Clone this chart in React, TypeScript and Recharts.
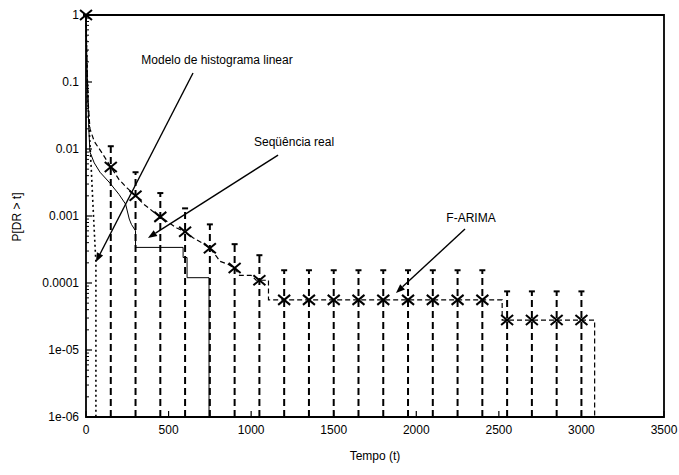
import React from 'react';
import {
  ComposedChart,
  Line,
  Scatter,
  ErrorBar,
  XAxis,
  YAxis,
  ReferenceArea,
  ReferenceLine,
} from 'recharts';

const FONT = '"Liberation Sans", Arial, sans-serif';
const FLOOR = 1e-6;

// F-ARIMA estimates at the sampled instants (X markers) and the top of each interval
const farimaT = [0, 150, 300, 450, 600, 750, 900, 1050, 1200, 1350, 1500, 1650, 1800, 1950, 2100, 2250, 2400, 2550, 2700, 2850, 3000];
const farimaP = [1, 0.0054, 0.002, 0.00097, 0.00058, 0.00033, 0.000167, 0.00011, 5.6e-5, 5.6e-5, 5.6e-5, 5.6e-5, 5.6e-5, 5.6e-5, 5.6e-5, 5.6e-5, 5.6e-5, 2.8e-5, 2.8e-5, 2.8e-5, 2.8e-5];
const farimaUpper = [null, 0.011, 0.0045, 0.0022, 0.0013, 0.00075, 0.00038, 0.00026, 0.000155, 0.000155, 0.000155, 0.000155, 0.000155, 0.000155, 0.000155, 0.000155, 0.000155, 7.5e-5, 7.5e-5, 7.5e-5, 7.5e-5];

// F-ARIMA complementary distribution (dashed curve)
const farimaCurveT = [0, 4, 8, 12, 24, 50, 100, 150, 200, 250, 300, 350, 400, 450, 500, 550, 600, 650, 700, 750, 790, 812, 860, 900, 930, 1000, 1030, 1105, 1105, 2520, 2520, 3080, 3080];
const farimaCurveP = [1, 0.3, 0.12, 0.055, 0.02, 0.013, 0.0085, 0.0054, 0.0035, 0.0026, 0.002, 0.0015, 0.0012, 0.00097, 0.0008, 0.00066, 0.00058, 0.00047, 0.0004, 0.00033, 0.00025, 0.00021, 0.00019, 0.000167, 0.00013, 0.00013, 0.00011, 0.00011, 5.6e-5, 5.6e-5, 2.8e-5, 2.8e-5, 1e-6];

// measured sequence (solid)
const realT = [0, 4, 8, 12, 17, 24, 50, 85, 145, 200, 240, 262, 275, 300, 300, 588, 588, 612, 612, 745, 745];
const realP = [1, 0.3, 0.12, 0.05, 0.02, 0.009, 0.0062, 0.0045, 0.0031, 0.0021, 0.0015, 0.0009, 0.00075, 0.0006, 0.00034, 0.00034, 0.00024, 0.00024, 0.00012, 0.00012, 1e-6];

// linear histogram model (dotted)
const modelT = [0, 5, 12, 22, 32, 42, 50, 60, 60];
const modelP = [1, 0.2, 0.05, 0.015, 0.005, 0.0015, 0.0006, 0.0002, 1e-6];

const xTicks = [0, 500, 1000, 1500, 2000, 2500, 3000, 3500];
const yMajor = [1e-6, 1e-5, 1e-4, 1e-3, 1e-2, 1e-1, 1];
const yLabels = ['1e-06', '1e-05', '0.0001', '0.001', '0.01', '0.1', '1'];
const yMinor = yMajor.slice(0, -1).flatMap((d) => [2, 3, 4, 5, 6, 7, 8, 9].map((m) => d * m));
const yTicks = [...yMajor, ...yMinor].sort((a, b) => a - b);

// annotations: label, tail point and head point in data space
const noteText = ['Modelo de histograma linear', 'Seqüência real', 'F-ARIMA'];
const noteFrom = [
  { x: 648, y: 0.136 },
  { x: 1163, y: 0.0081 },
  { x: 2295, y: 0.00064 },
];
const noteTo = [
  { x: 60, y: 0.000206 },
  { x: 375, y: 0.00047 },
  { x: 1877, y: 7.1e-5 },
];
const noteOffset = [
  [24, -9],
  [16, -9],
  [6, -7],
];

const LeftTick = (props: any) => {
  const { x, y, payload } = props;
  const i = yMajor.indexOf(payload.value);
  if (i < 0) return <line x1={x + 7} x2={x + 10} y1={y} y2={y} stroke="#000" strokeWidth={1} />;
  return (
    <g>
      <line x1={x + 7} x2={x + 13} y1={y} y2={y} stroke="#000" strokeWidth={1.2} />
      <text x={x} y={y} dy={4} textAnchor="end" fontFamily={FONT} fontSize={12} fill="#000">
        {yLabels[i]}
      </text>
    </g>
  );
};

const RightTick = (props: any) => {
  const { x, y, payload } = props;
  const major = yMajor.indexOf(payload.value) >= 0;
  return <line x1={x} x2={x - (major ? 6 : 3)} y1={y} y2={y} stroke="#000" strokeWidth={major ? 1.2 : 1} />;
};

const BottomTick = (props: any) => {
  const { x, y, payload } = props;
  return (
    <g>
      <line x1={x} x2={x} y1={y} y2={y - 6} stroke="#000" strokeWidth={1.2} />
      <text x={x} y={y + 17} textAnchor="middle" fontFamily={FONT} fontSize={12} fill="#000">
        {payload.value}
      </text>
    </g>
  );
};

const TopTick = (props: any) => {
  const { x, y } = props;
  return <line x1={x} x2={x} y1={y} y2={y + 6} stroke="#000" strokeWidth={1.2} />;
};

const Cross = (props: any) => {
  const { cx, cy } = props;
  return (
    <g stroke="#000" strokeWidth={2}>
      <line x1={cx - 6} y1={cy - 5} x2={cx + 6} y2={cy + 5} />
      <line x1={cx - 6} y1={cy + 5} x2={cx + 6} y2={cy - 5} />
    </g>
  );
};

const arrowShape = (i: number) => (props: any) => {
  const { x1, y1, x2, y2 } = props;
  const a = Math.atan2(y2 - y1, x2 - x1);
  const len = 9;
  const half = 3.5;
  const bx = x2 - len * Math.cos(a);
  const by = y2 - len * Math.sin(a);
  const pts = `${x2},${y2} ${bx + half * Math.sin(a)},${by - half * Math.cos(a)} ${bx - half * Math.sin(a)},${by + half * Math.cos(a)}`;
  return (
    <g>
      <line x1={x1} y1={y1} x2={bx} y2={by} stroke="#000" strokeWidth={1.4} />
      <polygon points={pts} fill="#000" />
      <text
        x={x1 + noteOffset[i][0]}
        y={y1 + noteOffset[i][1]}
        textAnchor="middle"
        fontFamily={FONT}
        fontSize={12}
        fill="#000"
      >
        {noteText[i]}
      </text>
    </g>
  );
};

export default function App() {
  const markers = farimaT.map((t, i) => ({
    t,
    p: farimaP[i],
    err: farimaUpper[i] == null ? [0, 0] : [farimaP[i] - FLOOR, (farimaUpper[i] as number) - farimaP[i]],
  }));
  const farimaCurve = farimaCurveT.map((t, i) => ({ t, p: farimaCurveP[i] }));
  const real = realT.map((t, i) => ({ t, p: realP[i] }));
  const model = modelT.map((t, i) => ({ t, p: modelP[i] }));

  return (
    <div style={{ position: 'absolute', left: 0, top: 0, background: '#fff' }}>
      <ComposedChart width={679} height={475} margin={{ top: 15, right: 15, bottom: 0, left: 0 }}>
        <XAxis
          dataKey="t"
          type="number"
          domain={[0, 3500]}
          ticks={xTicks}
          interval={0}
          height={58}
          tickSize={0}
          tickMargin={0}
          axisLine={false}
          tickLine={false}
          tick={<BottomTick />}
          label={{
            content: (p: any) => (
              <text
                x={p.viewBox.x + p.viewBox.width / 2}
                y={p.viewBox.y + 43}
                textAnchor="middle"
                fontFamily={FONT}
                fontSize={12}
                fill="#000"
              >
                Tempo (t)
              </text>
            ),
          }}
        />
        <XAxis
          xAxisId="top"
          orientation="top"
          type="number"
          domain={[0, 3500]}
          ticks={xTicks}
          interval={0}
          height={0}
          tickSize={0}
          tickMargin={0}
          axisLine={false}
          tickLine={false}
          tick={<TopTick />}
        />
        <YAxis
          type="number"
          scale="log"
          domain={[1e-6, 1]}
          ticks={yTicks}
          interval={0}
          width={86}
          tickSize={0}
          tickMargin={7}
          axisLine={false}
          tickLine={false}
          tick={<LeftTick />}
          label={{
            content: (p: any) => (
              <text
                x={p.viewBox.x + 21}
                y={217}
                transform={`rotate(-90, ${p.viewBox.x + 21}, 217)`}
                textAnchor="middle"
                fontFamily={FONT}
                fontSize={12}
                fill="#000"
              >
                P[DR &gt; t]
              </text>
            ),
          }}
        />
        <YAxis
          yAxisId="right"
          orientation="right"
          type="number"
          scale="log"
          domain={[1e-6, 1]}
          ticks={yTicks}
          interval={0}
          width={0}
          tickSize={0}
          tickMargin={0}
          axisLine={false}
          tickLine={false}
          tick={<RightTick />}
        />

        <ReferenceArea x1={0} x2={3500} y1={1e-6} y2={1} fill="none" stroke="#000" strokeWidth={1.8} />

        <Line
          data={model}
          dataKey="p"
          type="linear"
          stroke="#000"
          strokeWidth={1.6}
          strokeDasharray="2 3"
          dot={false}
          isAnimationActive={false}
        />
        <Line
          data={real}
          dataKey="p"
          type="linear"
          stroke="#000"
          strokeWidth={1}
          dot={false}
          isAnimationActive={false}
        />
        <Line
          data={farimaCurve}
          dataKey="p"
          type="linear"
          stroke="#000"
          strokeWidth={1.2}
          strokeDasharray="5 3"
          dot={false}
          isAnimationActive={false}
        />
        <Scatter data={markers} dataKey="p" shape={<Cross />} isAnimationActive={false}>
          <ErrorBar
            dataKey="err"
            direction="y"
            width={3}
            stroke="#000"
            strokeWidth={2}
            strokeDasharray="7 4"
            isAnimationActive={false}
          />
        </Scatter>

        {noteText.map((_, i) => (
          <ReferenceLine
            key={i}
            segment={[noteFrom[i], noteTo[i]]}
            stroke="#000"
            shape={arrowShape(i)}
          />
        ))}
      </ComposedChart>
    </div>
  );
}
